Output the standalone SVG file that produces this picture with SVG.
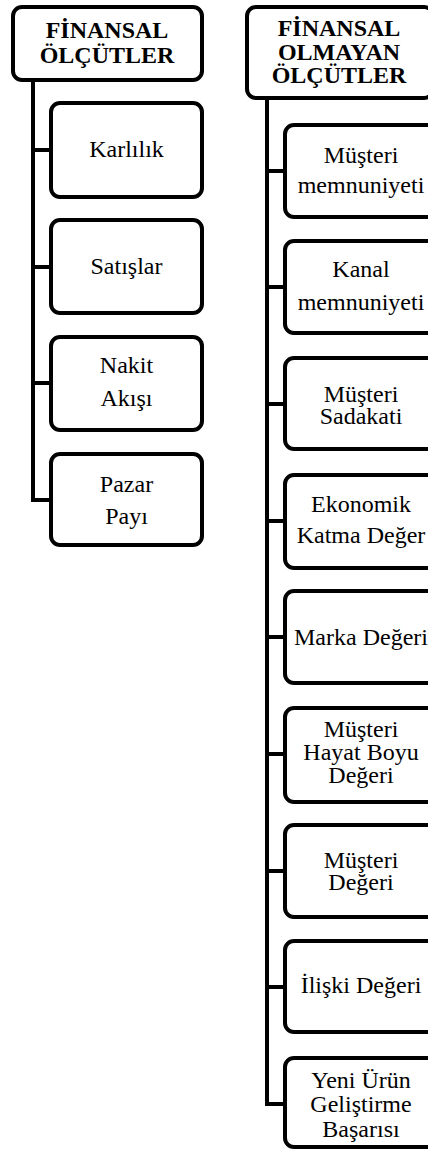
<svg xmlns="http://www.w3.org/2000/svg" width="428" height="1151" viewBox="0 0 428 1151">
<style>
.box{fill:#fff;stroke:#000;stroke-width:4}
.con{fill:none;stroke:#000;stroke-width:4;stroke-linejoin:miter}
.h{font-family:"Liberation Serif","Times New Roman",serif;font-weight:bold;font-size:24px;text-anchor:middle;fill:#000}
.t{font-family:"Liberation Serif","Times New Roman",serif;font-size:24px;text-anchor:middle;fill:#000}
</style>
<rect width="428" height="1151" fill="#fff"/>
<g id="connectors">
<path class="con" d="M33,80 V500 H52"/>
<path class="con" d="M33,150 H52 M33,267 H52 M33,383 H52"/>
<path class="con" d="M267,98 V1104 H286"/>
<path class="con" d="M267,171 H286 M267,287 H286 M267,404 H286 M267,521 H286 M267,637 H286 M267,754 H286 M267,871 H286 M267,987 H286"/>
</g>
<g id="financial">
<rect class="box" x="13" y="7" width="189" height="73" rx="9"/>
<text class="h" x="107" y="38">FİNANSAL</text>
<text class="h" x="107" y="63">ÖLÇÜTLER</text>
</g>
<g id="karlilik"><rect class="box" x="51" y="103" width="151" height="94" rx="9"/><text class="t" x="126.5" y="157">Karlılık</text></g>
<g id="satislar"><rect class="box" x="51" y="220" width="151" height="93" rx="9"/><text class="t" x="126.5" y="274">Satışlar</text></g>
<g id="nakit"><rect class="box" x="51" y="337" width="151" height="93" rx="9"/><text class="t" x="126.5" y="373">Nakit</text><text class="t" x="126.5" y="406">Akışı</text></g>
<g id="pazar"><rect class="box" x="51" y="454" width="151" height="91" rx="9"/><text class="t" x="126.5" y="492">Pazar</text><text class="t" x="126.5" y="524">Payı</text></g>
<g id="nonfinancial">
<rect class="box" x="247" y="7" width="186" height="91" rx="9"/>
<text class="h" x="339" y="36">FİNANSAL</text>
<text class="h" x="339" y="60">OLMAYAN</text>
<text class="h" x="339" y="83">ÖLÇÜTLER</text>
</g>
<g id="musteri-memnuniyeti"><rect class="box" x="285" y="125" width="152" height="92" rx="9"/><text class="t" x="361" y="163">Müşteri</text><text class="t" x="361" y="193">memnuniyeti</text></g>
<g id="kanal-memnuniyeti"><rect class="box" x="285" y="241" width="152" height="92" rx="9"/><text class="t" x="361" y="277">Kanal</text><text class="t" x="361" y="310">memnuniyeti</text></g>
<g id="musteri-sadakati"><rect class="box" x="285" y="358" width="152" height="91" rx="9"/><text class="t" x="361" y="402">Müşteri</text><text class="t" x="361" y="424">Sadakati</text></g>
<g id="ekonomik"><rect class="box" x="285" y="475" width="152" height="93" rx="9"/><text class="t" x="361" y="512">Ekonomik</text><text class="t" x="361" y="543">Katma Değer</text></g>
<g id="marka"><rect class="box" x="285" y="591" width="152" height="92" rx="9"/><text class="t" x="361" y="645">Marka Değeri</text></g>
<g id="hayat-boyu"><rect class="box" x="285" y="708" width="152" height="94" rx="9"/><text class="t" x="361" y="737">Müşteri</text><text class="t" x="361" y="760">Hayat Boyu</text><text class="t" x="361" y="783">Değeri</text></g>
<g id="musteri-degeri"><rect class="box" x="285" y="825" width="152" height="92" rx="9"/><text class="t" x="361" y="868">Müşteri</text><text class="t" x="361" y="890">Değeri</text></g>
<g id="iliski"><rect class="box" x="285" y="941" width="152" height="91" rx="9"/><text class="t" x="361" y="993">İlişki Değeri</text></g>
<g id="yeni-urun"><rect class="box" x="285" y="1058" width="152" height="89" rx="9"/><text class="t" x="361" y="1088">Yeni Ürün</text><text class="t" x="361" y="1112">Geliştirme</text><text class="t" x="361" y="1137">Başarısı</text></g>
</svg>
